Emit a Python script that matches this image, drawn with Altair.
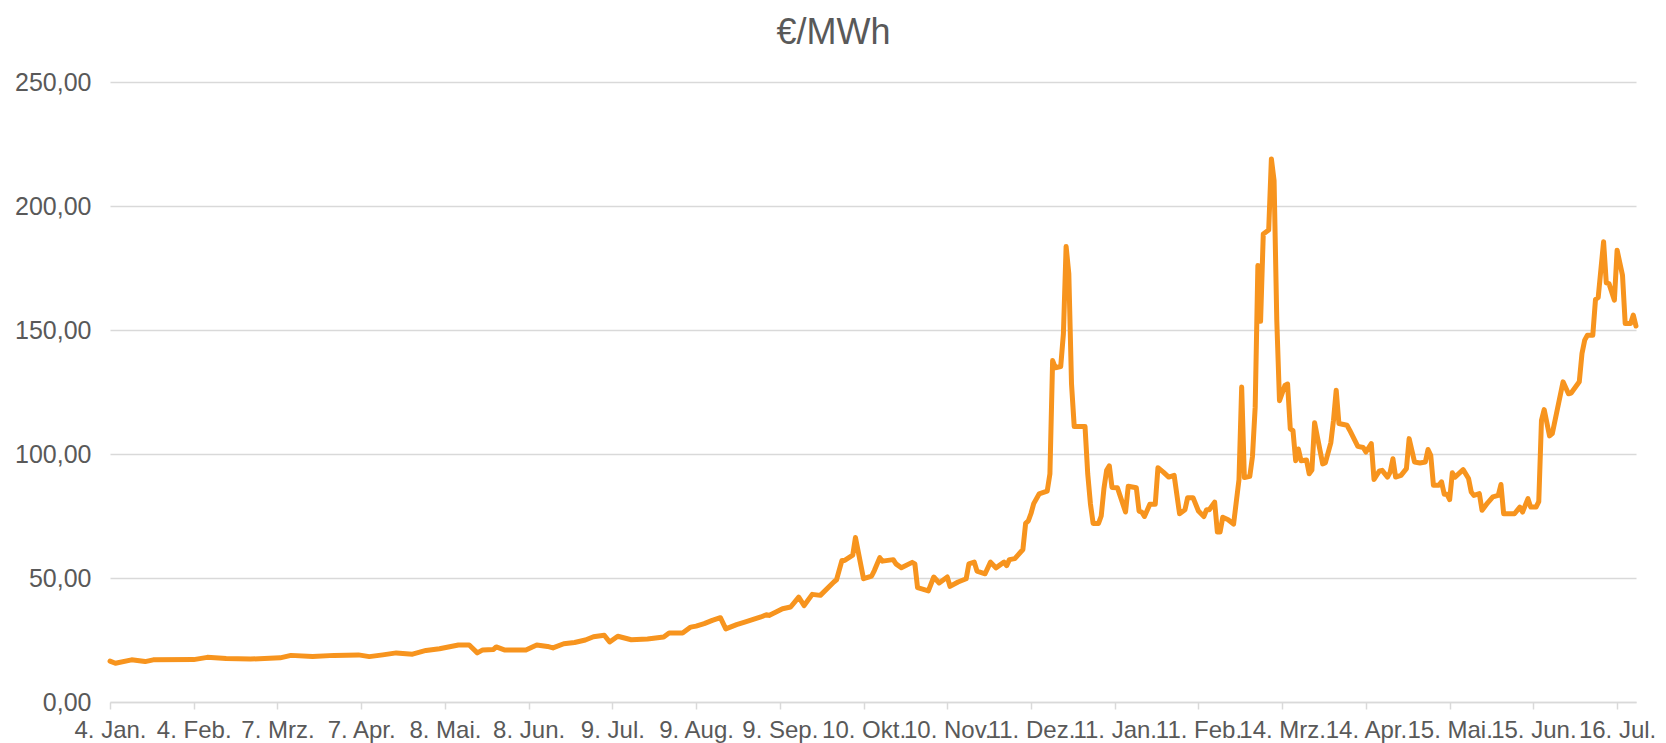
import altair as alt
import pandas as pd

# day offsets from 4 Jan 2021
days = [0, 2, 8, 13, 16, 31, 36, 43, 52, 63, 67, 75, 83, 92, 96, 101, 106, 112, 117, 122,
        129, 133, 136, 138, 142, 143, 146, 154, 158, 162, 164, 168, 172, 176, 179, 183, 185, 188,
        193, 199, 205, 207, 212, 215, 217, 220, 223, 226, 228, 232, 235, 241, 243, 244, 249, 252,
        255, 257, 260, 263, 268, 269, 271, 272, 275, 276, 279, 282, 283, 285, 286, 288, 290, 291,
        293, 297, 298, 299, 303, 305, 307, 310, 311, 314, 317, 318, 320, 321, 324, 326, 328, 331,
        332, 333, 335, 338, 339, 340, 341, 342, 344, 347, 348, 349, 350, 352, 353, 354, 355, 356,
        357, 361, 362, 363, 364, 366, 367, 368, 369, 370, 371, 373, 376, 377, 380, 381, 382, 383,
        385, 387, 388, 390, 392, 394, 396, 398, 399, 401, 403, 405, 406, 407, 409, 410, 411, 412,
        414, 416, 418, 419, 420, 422, 423, 424, 425, 426, 427, 429, 430, 431, 432, 433, 435, 436,
        437, 438, 439, 440, 441, 443, 444, 445, 446, 449, 450, 452, 453, 454, 455, 458, 459, 462,
        464, 465, 467, 468, 470, 471, 473, 474, 475, 476, 478, 480, 481, 483, 485, 487, 488, 489,
        490, 492, 493, 494, 495, 496, 497, 498, 501, 503, 504, 505, 507, 508, 510, 512, 514, 515,
        516, 520, 522, 523, 525, 526, 528, 529, 530, 531, 533, 534, 537, 538, 540, 541, 544, 545,
        546, 547, 549, 550, 551, 553, 554, 555, 557, 558, 560, 561, 563, 564, 565]

prices = [16.5, 15.6, 17.0, 16.3, 17.0, 17.1, 18.0, 17.5, 17.3, 17.8, 18.8, 18.3, 18.8, 19.0, 18.3, 19.0, 19.8, 19.3, 20.8, 21.5,
          23.0, 23.0, 19.8, 21.0, 21.2, 22.2, 21.0, 21.0, 23.0, 22.4, 21.8, 23.5, 24.0, 25.0, 26.3, 26.9, 24.2, 26.5,
          25.1, 25.4, 26.2, 27.8, 27.8, 30.2, 30.6, 31.6, 32.9, 34.0, 29.5, 31.2, 32.2, 34.3, 35.2, 34.9, 37.6, 38.3,
          42.3, 38.9, 43.4, 43.0, 48.4, 49.3, 57.1, 57.1, 59.2, 66.3, 49.7, 50.8, 53.0, 58.2, 56.8, 57.1, 57.4, 55.7,
          54.1, 56.3, 55.7, 46.1, 44.8, 50.4, 48.0, 50.4, 46.6, 48.4, 49.7, 55.7, 56.4, 52.8, 51.7, 56.4, 54.1, 56.4,
          55.0, 57.4, 57.8, 61.5, 72.0, 73.0, 76.0, 80.0, 83.9, 85.0, 92.0, 137.7, 134.8, 135.3, 148.5, 183.7, 172.7, 128.3,
          111.1, 111.1, 92.0, 79.9, 72.0, 72.0, 75.0, 86.0, 93.4, 95.2, 86.5, 86.4, 76.6, 87.0, 86.4, 77.0, 76.6, 74.8,
          79.7, 79.7, 94.5, 92.7, 90.7, 91.4, 75.9, 77.5, 82.4, 82.4, 77.0, 74.8, 77.5, 77.5, 80.6, 68.5, 68.5, 74.5,
          73.5, 71.7, 89.6, 127.0, 90.5, 91.0, 99.0, 118.8, 176.0, 153.5, 188.7, 190.3, 219.0, 210.3, 153.8, 121.5, 127.6, 128.2,
          110.1, 109.4, 97.3, 102.0, 97.3, 97.6, 92.0, 93.5, 112.6, 96.0, 96.5, 104.5, 113.6, 125.7, 112.3, 111.6, 109.6, 103.1,
          102.6, 100.8, 104.2, 89.7, 93.2, 93.4, 90.7, 92.7, 98.1, 90.7, 91.4, 94.1, 106.2, 96.8, 96.4, 96.8, 101.8, 99.5,
          87.4, 87.4, 88.8, 83.8, 83.8, 81.6, 92.4, 90.7, 93.7, 90.1, 84.7, 83.3, 84.0, 77.3, 80.2, 82.7, 83.3, 87.7,
          75.9, 75.9, 78.6, 76.6, 82.0, 78.6, 78.6, 80.8, 113.6, 117.9, 107.3, 108.2, 123.9, 129.1, 124.3, 124.6, 129.1, 140.5,
          145.9, 147.9, 147.9, 162.3, 163.1, 185.6, 169.0, 168.7, 162.0, 182.2, 172.1, 152.6, 152.6, 156.0, 151.6]

tick_days = [0, 31, 62, 93, 124, 155, 186, 217, 248, 279, 310, 341, 372, 403, 434, 465, 496, 527, 558]
tick_labels = ["4. Jan.", "4. Feb.", "7. Mrz.", "7. Apr.", "8. Mai.", "8. Jun.", "9. Jul.", "9. Aug.",
               "9. Sep.", "10. Okt.", "10. Nov.", "11. Dez.", "11. Jan.", "11. Feb.", "14. Mrz.",
               "14. Apr.", "15. Mai.", "15. Jun.", "16. Jul."]
y_ticks = [0, 50, 100, 150, 200, 250]
title_text = ["€/MWh"]

df = pd.DataFrame({"day": days, "price": prices})
df_title = pd.DataFrame({"t": title_text})

label_expr = "[" + ",".join("'" + l + "'" for l in tick_labels) + "][round(datum.value/31)]"

FONT = "Liberation Sans"
GREY = "#595959"

line = alt.Chart(df).mark_line(
    color="#F7941E", strokeWidth=5, strokeJoin="round", strokeCap="round"
).encode(
    x=alt.X("day:Q",
            scale=alt.Scale(domain=[0, 565], nice=False, zero=False),
            axis=alt.Axis(values=tick_days, labelExpr=label_expr, title=None, grid=False,
                          domainColor="#d9d9d9", domainWidth=1.5, tickColor="#d9d9d9",
                          tickWidth=1.5, tickSize=7, labelFontSize=24, labelColor=GREY,
                          labelFont=FONT, labelPadding=9, labelOverlap=False,
                          labelFlush=False, labelBound=False)),
    y=alt.Y("price:Q",
            scale=alt.Scale(domain=[0, 250], nice=False),
            axis=alt.Axis(values=y_ticks,
                          labelExpr="replace(format(datum.value, '.2f'), '.', ',')",
                          title=None, grid=True, gridColor="#d9d9d9", gridWidth=1.5,
                          domain=False, ticks=False, labelPadding=19, labelFontSize=25,
                          labelColor=GREY, labelFont=FONT)),
)

title = alt.Chart(df_title).mark_text(
    font=FONT, fontSize=36, color=GREY, align="center", baseline="alphabetic"
).encode(
    text="t:N",
    x=alt.value(723.5),
    y=alt.value(-38),
)

chart = alt.layer(line, title).properties(
    width=1526, height=620,
    autosize=alt.AutoSizeParams(type="none"),
    padding={"left": 102, "top": 74, "right": 22, "bottom": 41},
).configure_view(stroke=None)

chart.save("out.html", embed_options={"renderer": "svg", "actions": False})
